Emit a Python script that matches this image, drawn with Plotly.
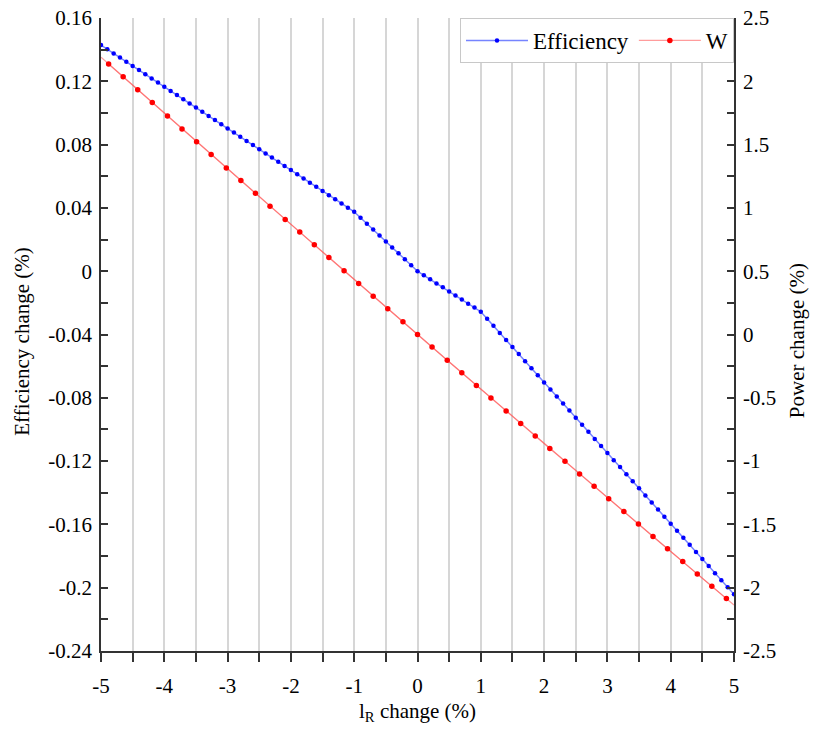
import plotly.graph_objects as go

# x grid for efficiency (step 0.1 from -5 to 5)
eff_x = [round(-5 + 0.1 * i, 1) for i in range(101)]
eff_y = [
    0.1429, 0.1403, 0.1376, 0.1350, 0.1324, 0.1297, 0.1271, 0.1245, 0.1218, 0.1192,
    0.1165, 0.1139, 0.1113, 0.1086, 0.1060, 0.1034, 0.1007, 0.0981, 0.0955, 0.0928,
    0.0902, 0.0876, 0.0849, 0.0823, 0.0797, 0.0770, 0.0744, 0.0718, 0.0691, 0.0665,
    0.0639, 0.0612, 0.0586, 0.0559, 0.0533, 0.0507, 0.0480, 0.0454, 0.0428, 0.0401,
    0.0375, 0.0338, 0.0300, 0.0263, 0.0225, 0.0188, 0.0150, 0.0113, 0.0075, 0.0038,
    0.0000, -0.0026, -0.0051, -0.0077, -0.0102, -0.0128, -0.0154, -0.0179, -0.0205, -0.0230,
    -0.0256, -0.0301, -0.0345, -0.0390, -0.0435, -0.0479, -0.0524, -0.0569, -0.0613, -0.0658,
    -0.0703, -0.0747, -0.0792, -0.0836, -0.0881, -0.0926, -0.0970, -0.1015, -0.1060, -0.1104,
    -0.1149, -0.1194, -0.1238, -0.1283, -0.1328, -0.1372, -0.1417, -0.1462, -0.1506, -0.1551,
    -0.1596, -0.1640, -0.1685, -0.1729, -0.1774, -0.1819, -0.1863, -0.1908, -0.1953, -0.1997,
    -0.2042,
]

# Power (W) marker points
w_x = [-4.88, -4.65, -4.42, -4.19, -3.95, -3.72, -3.49, -3.26, -3.02, -2.79, -2.56,
       -2.33, -2.09, -1.86, -1.63, -1.40, -1.16, -0.93, -0.70, -0.47, -0.23, 0.0,
       0.23, 0.47, 0.70, 0.93, 1.16, 1.40, 1.63, 1.86, 2.09, 2.33, 2.56, 2.79, 3.02,
       3.26, 3.49, 3.72, 3.95, 4.19, 4.42, 4.65, 4.88]
w_y = [2.137, 2.035, 1.933, 1.832, 1.726, 1.624, 1.523, 1.422, 1.316, 1.216, 1.115,
       1.014, 0.909, 0.809, 0.708, 0.608, 0.503, 0.403, 0.303, 0.204, 0.100, 0.0,
       -0.099, -0.203, -0.302, -0.402, -0.501, -0.604, -0.703, -0.801, -0.900, -1.002,
       -1.101, -1.199, -1.297, -1.399, -1.497, -1.595, -1.693, -1.794, -1.892, -1.989,
       -2.086]
# line end points of W series
w_end_x = [-5.0, 5.0]
w_end_y = [2.190, -2.137]

x_ticks = [-5, -4, -3, -2, -1, 0, 1, 2, 3, 4, 5]
left_ticks = [-0.24, -0.2, -0.16, -0.12, -0.08, -0.04, 0, 0.04, 0.08, 0.12, 0.16]
left_labels = ["-0.24", "-0.2", "-0.16", "-0.12", "-0.08", "-0.04", "0", "0.04", "0.08", "0.12", "0.16"]
right_ticks = [-2.5, -2, -1.5, -1, -0.5, 0, 0.5, 1, 1.5, 2, 2.5]
right_labels = ["-2.5", "-2", "-1.5", "-1", "-0.5", "0", "0.5", "1", "1.5", "2", "2.5"]

x_title = "l<sub>R</sub> change (%)"
y_title = "Efficiency change (%)"
y2_title = "Power change (%)"

FONT = "Liberation Serif, DejaVu Serif, Times New Roman, serif"
AX = "#333333"
GRID = "#d6d6d6"

fig = go.Figure()

# W full line (including end points), no legend
fig.add_trace(go.Scatter(
    x=[w_end_x[0]] + w_x + [w_end_x[1]],
    y=[w_end_y[0]] + w_y + [w_end_y[1]],
    mode="lines", line=dict(color="rgba(255,90,90,0.6)", width=1.2),
    yaxis="y2", showlegend=False, hoverinfo="skip",
))

fig.add_trace(go.Scatter(
    x=eff_x, y=eff_y, name="Efficiency", mode="lines+markers",
    line=dict(color="rgba(60,80,255,0.7)", width=1.5),
    marker=dict(color="#0000ff", size=4.5, symbol="circle"),
))

fig.add_trace(go.Scatter(
    x=w_x, y=w_y, name="W", mode="lines+markers", yaxis="y2",
    line=dict(color="rgba(255,90,90,0.6)", width=1.2),
    marker=dict(color="#ff0000", size=5.5),
))

fig.update_layout(
    width=815, height=731,
    margin=dict(l=101, r=81, t=18, b=80),
    paper_bgcolor="white", plot_bgcolor="white",
    font=dict(family=FONT, size=21, color="black"),
    showlegend=True,
    legend=dict(
        orientation="h", x=1, xanchor="right", y=1, yanchor="top",
        bgcolor="white", bordercolor="#c8c8c8", borderwidth=1,
        font=dict(family=FONT, size=23),
        itemwidth=62, tracegroupgap=0,
    ),
    xaxis=dict(
        range=[-5, 5], tickvals=x_ticks, ticktext=[str(v) for v in x_ticks],
        showline=True, linecolor=AX, linewidth=1.5, mirror=False,
        ticks="outside", ticklen=9, tickcolor=AX, tickwidth=1.5,
        showgrid=True, gridcolor=GRID, gridwidth=1.5,
        minor=dict(dtick=0.5, tick0=-5, ticks="outside", ticklen=9, tickcolor=AX,
                   showgrid=True, gridcolor=GRID, gridwidth=1.5),
        zeroline=False, automargin=False, ticklabelstandoff=6,
        ticklabeloverflow="allow",
        tickfont=dict(family=FONT, size=21),
    ),
    yaxis=dict(
        range=[-0.24, 0.16], tickvals=left_ticks, ticktext=left_labels,
        showline=True, linecolor=AX, linewidth=1.5,
        ticks="inside", ticklen=7, tickcolor=AX, tickwidth=1.5,
        minor=dict(dtick=0.02, tick0=0, ticks="inside", ticklen=7, tickcolor=AX, showgrid=False),
        showgrid=False, zeroline=False, automargin=False,
        ticklabeloverflow="allow", ticklabelstandoff=3,
        tickfont=dict(family=FONT, size=21),
    ),
    yaxis2=dict(
        range=[-2.5, 2.5], tickvals=right_ticks, ticktext=right_labels,
        overlaying="y", side="right",
        showline=True, linecolor=AX, linewidth=1.5,
        ticks="inside", ticklen=7, tickcolor=AX, tickwidth=1.5,
        minor=dict(dtick=0.25, tick0=0, ticks="inside", ticklen=7, tickcolor=AX, showgrid=False),
        showgrid=False, zeroline=False, automargin=False,
        ticklabeloverflow="allow", ticklabelstandoff=3,
        tickfont=dict(family=FONT, size=21),
    ),
    annotations=[
        dict(text=x_title, xref="paper", yref="paper", x=0.5, y=-0.096,
             xanchor="center", yanchor="middle", showarrow=False,
             font=dict(family=FONT, size=21)),
        dict(text=y_title, xref="paper", yref="paper", x=-0.125, y=0.49,
             xanchor="center", yanchor="middle", showarrow=False, textangle=-90,
             font=dict(family=FONT, size=21)),
        dict(text=y2_title, xref="paper", yref="paper", x=1.1, y=0.49,
             xanchor="center", yanchor="middle", showarrow=False, textangle=-90,
             font=dict(family=FONT, size=21)),
    ],
)

# remove the default 8px page margin so the figure sits at the window's corner
fig.write_html("out.html", config={"displayModeBar": False},
               post_script="document.body.style.margin='0px';")
